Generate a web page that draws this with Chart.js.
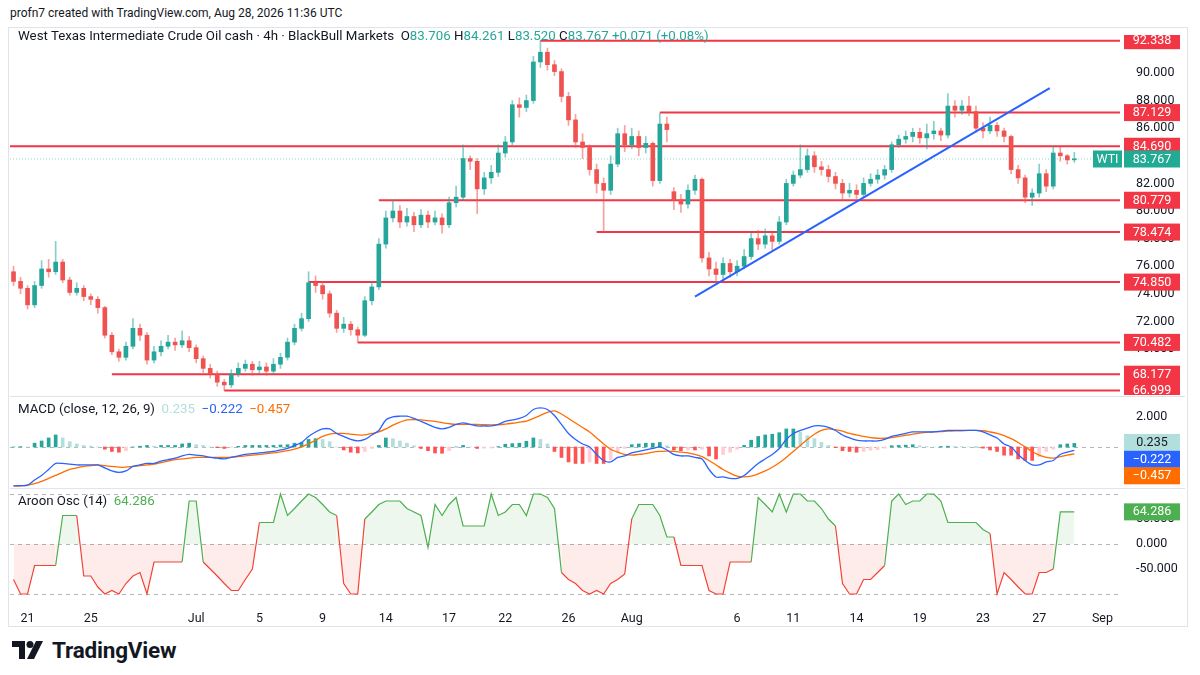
<!DOCTYPE html>
<html>
<head>
<meta charset="utf-8">
<script src="https://cdn.jsdelivr.net/npm/chart.js@4.4.1/dist/chart.umd.min.js"></script>
<style>
  body { margin: 0; background: #fff; font-family: Roboto, "DejaVu Sans", sans-serif; color: #131722; }
  #wrap { position: relative; width: 1200px; height: 675px; overflow: hidden; }
  canvas { position: absolute; left: 10px; }
  .txt { position: absolute; font-size: 13.3px; white-space: nowrap; }
  .sep { position: absolute; left: 10px; width: 1175px; height: 1px; background: #e0e3eb; }
</style>
</head>
<body>
<div id="wrap">
  <div class="txt" style="left:10px;top:6px;font-size:12px;">profn7 created with TradingView.com, Aug 28, 2026 11:36 UTC</div>
  <div style="position:absolute;left:8px;top:27px;width:1178px;height:598px;border:1px solid #e0e3eb;"></div>
  <canvas id="price" width="1175" height="360" style="top:35px"></canvas>
  <div class="sep" style="top:396px"></div>
  <canvas id="macd" width="1175" height="90" style="top:397px"></canvas>
  <div class="sep" style="top:488px"></div>
  <canvas id="aroon" width="1175" height="137" style="top:489px"></canvas>
  <div class="txt" style="left:18px;top:28px;">West Texas Intermediate Crude Oil cash · 4h · BlackBull Markets&nbsp;
    <span style="color:#131722">O</span><span style="color:#26a69a">83.706</span>
    <span style="color:#131722">H</span><span style="color:#26a69a">84.261</span>
    <span style="color:#131722">L</span><span style="color:#26a69a">83.520</span>
    <span style="color:#131722">C</span><span style="color:#26a69a">83.767 +0.071 (+0.08%)</span></div>
  <div class="txt" style="left:18px;top:401px;">MACD (close, 12, 26, 9)&nbsp;
    <span style="color:#b2dfdb">0.235</span>&nbsp; <span style="color:#2962ff">−0.222</span>&nbsp; <span style="color:#ff6d00">−0.457</span></div>
  <div class="txt" style="left:18px;top:493px;">Aroon Osc (14)&nbsp; <span style="color:#4caf50">64.286</span></div>
  <div style="position:absolute;left:12px;top:637px;display:flex;align-items:center;">
    <svg width="34" height="22" viewBox="0 0 34 22">
      <path d="M0 2h13v18H7V8H0z" fill="#131722"/>
      <circle cx="18" cy="5.5" r="3.5" fill="#131722"/>
      <path d="M24 2h7l-9 18h-7z" fill="#131722"/>
    </svg>
    <span style="font-size:22.5px;font-weight:bold;margin-left:6px;letter-spacing:-0.2px;">TradingView</span>
  </div>
</div>
<script>
// ---- data ----
const closes = [74.9,74.4,73.2,74.6,75.8,75.6,76.3,75.0,74.1,74.4,
  73.8,73.6,73.0,71.0,69.8,69.4,70.2,71.5,71.0,69.2,
  69.8,70.2,70.5,70.3,70.6,70.1,69.3,68.6,68.2,67.6,
  67.4,68.2,68.6,68.9,68.5,68.7,68.4,68.9,69.4,70.5,
  71.5,72.2,74.8,74.6,74.0,72.6,71.5,71.8,71.4,71.0,
  73.5,74.5,77.6,79.5,80.0,79.2,79.6,79.0,79.7,79.2,
  79.5,79.0,80.6,81.0,83.8,83.6,81.6,82.4,82.8,84.2,
  85.0,87.7,87.5,88.0,90.8,91.5,90.6,90.1,88.3,86.6,
  85.0,84.6,83.0,82.0,81.5,83.4,85.6,84.8,85.4,84.6,
  84.9,82.2,86.3,85.9,80.8,80.5,81.5,82.3,76.6,75.8,
  75.4,76.2,75.6,76.0,76.7,78.0,77.6,78.2,77.8,79.2,
  82.0,82.6,83.0,84.0,83.2,83.0,82.5,82.0,81.3,81.5,
  81.2,82.0,82.3,82.6,83.0,84.8,85.2,85.4,85.7,85.3,
  85.6,85.8,85.5,87.6,87.3,87.6,87.2,86.0,85.8,86.2,
  85.8,85.4,83.0,82.4,81.0,81.3,82.7,81.8,84.2,84.0,
  83.7,83.767];
const highs = [76.0,75.2,74.6,74.9,76.4,76.5,77.8,76.5,75.2,74.8,
  74.6,74.0,73.8,73.1,71.2,70.0,70.5,72.2,71.8,71.2,
  70.2,70.6,71.0,70.8,71.3,70.9,70.3,69.5,68.9,68.4,
  67.8,68.5,69.0,69.2,69.1,69.1,69.0,69.3,69.7,70.8,
  71.8,72.6,75.6,75.3,74.9,74.2,72.8,72.3,72.0,71.6,
  73.8,74.9,78.0,80.0,80.8,80.4,80.2,79.9,80.1,80.0,
  80.0,79.8,81.0,81.8,84.8,84.0,83.8,82.8,83.3,84.8,
  85.4,88.0,88.2,88.4,91.2,92.338,91.8,90.9,90.3,88.6,
  87.0,85.6,84.8,83.4,82.4,84.0,86.0,86.2,86.0,85.8,
  85.4,85.0,87.1,86.8,81.7,81.2,81.9,82.6,82.4,77.0,
  76.3,76.6,76.5,76.4,77.2,78.4,78.6,78.7,78.5,79.6,
  82.3,82.9,84.8,84.5,84.3,83.6,83.3,82.8,82.3,82.0,
  81.9,82.4,82.7,83.0,83.3,85.0,85.5,85.8,86.0,86.0,
  86.3,86.5,86.0,88.5,88.0,88.0,88.3,87.6,86.4,86.8,
  86.4,86.0,85.5,83.3,82.6,81.6,83.4,83.0,84.69,84.6,
  84.1,84.261];
const lows = [74.6,74.0,72.9,73.0,74.4,75.2,75.4,74.8,73.9,73.9,
  73.5,73.2,72.6,70.8,69.6,69.1,69.2,70.0,70.6,68.9,
  69.0,69.5,70.0,69.9,70.1,69.8,69.0,68.3,67.9,67.3,
  66.999,67.2,68.0,68.4,68.1,68.2,68.1,68.2,68.6,69.2,
  70.3,71.3,72.0,74.1,73.6,72.3,71.2,71.2,71.0,70.482,
  70.9,73.2,74.3,77.3,79.2,78.8,78.9,78.5,78.8,78.8,
  79.0,78.4,78.8,80.3,80.8,83.0,79.8,81.2,82.0,82.5,
  83.9,84.8,86.8,87.2,87.8,90.4,90.2,89.8,87.9,86.2,
  84.6,83.8,82.6,81.3,78.474,81.2,83.2,84.3,84.5,84.0,
  84.2,81.8,82.0,85.0,80.1,79.9,80.2,81.2,76.3,75.3,
  74.85,75.1,75.2,75.3,75.8,76.5,77.2,77.3,77.2,77.6,
  79.0,81.8,82.4,82.8,82.8,82.6,82.1,81.6,80.8,81.0,
  80.9,81.0,81.8,82.0,82.3,82.8,84.6,84.9,85.0,84.9,
  84.5,85.2,85.1,85.3,86.8,87.0,86.9,85.7,85.3,85.6,
  85.4,85.0,82.7,82.0,80.6,80.4,81.0,81.4,81.6,83.6,
  83.4,83.52];
const firstOpen = 75.6;
const gapOpens = { 94: 81.4, 151: 83.706 };   // opens that differ from prior close

const macdLine = [-2.6,-2.58,-2.55,-2.2,-1.9,-1.5,-1.1,-1.1,-1.15,-1.2,
  -1.2,-1.2,-1.2,-1.4,-1.6,-1.7,-1.6,-1.3,-1.2,-1.1,
  -1.1,-0.95,-0.85,-0.75,-0.6,-0.5,-0.55,-0.6,-0.7,-0.75,
  -0.8,-0.7,-0.6,-0.5,-0.45,-0.4,-0.35,-0.3,-0.2,-0.1,
  0.1,0.3,0.7,1.0,1.2,1.2,0.9,0.7,0.5,0.4,
  0.5,0.8,1.1,1.8,2.0,2.05,2.05,1.9,1.7,1.5,
  1.3,1.2,1.3,1.5,1.6,1.5,1.4,1.4,1.4,1.5,
  1.7,1.8,1.9,2.1,2.5,2.6,2.5,2.1,1.5,0.9,
  0.5,0.2,0.0,-0.5,-0.9,-1.0,-0.7,-0.6,-0.4,-0.3,
  -0.2,-0.1,0.0,-0.2,-0.5,-0.6,-0.6,-0.7,-0.8,-1.5,
  -2.0,-2.0,-2.1,-2.1,-1.9,-1.5,-1.1,-0.8,-0.5,-0.1,
  0.5,0.9,1.1,1.25,1.4,1.4,1.3,1.1,0.8,0.6,
  0.45,0.4,0.4,0.4,0.5,0.7,0.8,0.9,1.0,1.0,
  1.0,1.0,1.05,1.1,1.1,1.1,1.1,1.1,1.0,0.8,
  0.6,0.2,0.0,-0.5,-0.9,-1.2,-1.2,-1.0,-0.9,-0.5,
  -0.35,-0.222];
const signalLine = [-2.6,-2.6,-2.55,-2.45,-2.3,-2.1,-1.9,-1.7,-1.5,-1.4,
  -1.3,-1.25,-1.2,-1.25,-1.3,-1.35,-1.35,-1.3,-1.25,-1.2,
  -1.15,-1.05,-0.95,-0.85,-0.8,-0.75,-0.7,-0.7,-0.7,-0.7,
  -0.7,-0.68,-0.64,-0.6,-0.55,-0.5,-0.45,-0.4,-0.33,-0.25,
  -0.15,0.0,0.2,0.45,0.7,0.85,0.9,0.9,0.85,0.8,
  0.8,0.9,1.0,1.2,1.45,1.65,1.8,1.82,1.8,1.75,
  1.7,1.62,1.55,1.5,1.5,1.5,1.5,1.48,1.47,1.48,
  1.52,1.58,1.65,1.72,1.9,2.1,2.3,2.4,2.2,1.9,
  1.6,1.3,1.0,0.6,0.2,-0.15,-0.35,-0.5,-0.55,-0.5,
  -0.45,-0.35,-0.3,-0.28,-0.3,-0.35,-0.4,-0.5,-0.65,-0.9,
  -1.2,-1.5,-1.75,-1.95,-2.0,-1.95,-1.8,-1.6,-1.35,-1.05,
  -0.7,-0.3,0.1,0.5,0.85,1.1,1.2,1.15,1.05,0.9,
  0.8,0.7,0.62,0.58,0.58,0.62,0.7,0.78,0.85,0.92,
  0.97,1.0,1.02,1.05,1.07,1.08,1.1,1.1,1.08,1.0,
  0.9,0.75,0.55,0.3,0.0,-0.3,-0.55,-0.7,-0.75,-0.65,
  -0.55,-0.457];
const aroonOsc = [-71,-100,-100,-43,-43,-43,-43,57,57,57,
  -64,-64,-86,-100,-93,-100,-79,-64,-57,-100,
  -36,-36,-36,-36,-36,86,86,-36,-50,-64,
  -79,-93,-93,-71,-50,43,43,43,100,57,
  71,86,100,93,79,64,57,-79,-100,-100,
  50,64,79,86,86,86,71,64,57,-7,
  79,57,79,93,36,36,36,36,100,57,
  64,79,79,57,100,100,93,71,-57,-71,
  -79,-93,-100,-93,-100,-79,-71,-60,50,79,
  79,79,57,14,14,-43,-43,-43,-43,-93,
  -100,-100,-36,-36,-36,-36,93,79,64,100,
  64,100,100,86,86,71,50,36,-79,-100,
  -100,-71,-71,-57,-43,86,100,79,86,86,
  100,100,86,43,43,43,43,43,29,21,
  -100,-57,-71,-86,-100,-100,-57,-57,-50,64.286,
  64.286,64.286];

// horizontal levels: [price, start bar]
const levels = [[92.338, 75], [87.129, 92], [84.690, -0.5], [80.779, 52], [78.474, 83],
  [74.850, 42], [70.482, 49], [68.177, 14], [66.999, 30]];
const trendLine = [[97, 73.8], [147.5, 88.9]];
const lastPrice = 83.767;
const priceTicks = [70, 72, 74, 76, 78, 80, 82, 84, 86, 88, 90];

// date ticks: [bar index, label]
const dateTicks = [[2,'21'],[11,'25'],[26,'Jul'],[35,'5'],[44,'9'],[53,'14'],[62,'17'],
  [70,'22'],[79,'26'],[88,'Aug'],[103,'6'],[111,'11'],[120,'14'],[129,'19'],
  [138,'23'],[146,'27'],[155,'Sep']];
const totalSlots = 158;

// ---- build ----
const UP = '#26a69a', DOWN = '#ef5350';
const opens = closes.map((c, i) => gapOpens[i] !== undefined ? gapOpens[i] : (i === 0 ? firstOpen : closes[i - 1]));
const labels = Array.from({ length: totalSlots }, () => '');
dateTicks.forEach(([i, t]) => labels[i] = t);
const candleColor = ctx => closes[ctx.dataIndex] >= opens[ctx.dataIndex] ? UP : DOWN;
const hist = macdLine.map((m, i) => +(m - signalLine[i]).toFixed(3));

Chart.defaults.font = { family: 'Roboto, "DejaVu Sans", sans-serif', size: 12 };
Chart.defaults.color = '#131722';

function xAxis(show) {
  const ax = {
    type: 'category', offset: true, display: show,
    grid: { display: false }, border: { display: false },
    ticks: { autoSkip: false, maxRotation: 0, padding: 4, font: { size: 12.5 } }
  };
  if (show) ax.afterFit = s => { s.height = 27; s.paddingLeft = 0; s.paddingRight = 0; };
  return ax;
}
// linear twin of the category axis so lines can sit between bars
const xLine = { type: 'linear', display: false, min: -0.5, max: totalSlots - 0.5 };

function yAxis(min, max, tickVals, fmt) {
  return {
    position: 'right', min, max,
    grid: { display: false }, border: { display: false },
    afterBuildTicks: s => { s.ticks = tickVals.map(v => ({ value: v })); },
    ticks: { padding: 8, font: { size: 12.5 }, callback: fmt },
    afterFit: s => { s.width = 65; s.paddingTop = 0; s.paddingBottom = 0; }
  };
}
const baseOpts = {
  responsive: false, animation: false,
  layout: { padding: 0, autoPadding: false },
  plugins: { legend: { display: false }, tooltip: { enabled: false } }
};

function boxLabel(ctx, area, y, text, bg, fg) {
  const x = area.right + 4, w = 56, h = 17;
  ctx.fillStyle = bg;
  ctx.fillRect(x, y - h / 2, w, h);
  ctx.fillStyle = fg;
  ctx.font = '12.5px Roboto, "DejaVu Sans", sans-serif';
  ctx.textAlign = 'center';
  ctx.textBaseline = 'middle';
  ctx.fillText(text, x + w / 2, y + 0.5);
}

const priceLabels = {
  id: 'priceLabels',
  afterDraw(chart) {
    const { ctx, chartArea, scales } = chart;
    ctx.save();
    levels.forEach(([v]) => boxLabel(ctx, chartArea, scales.y.getPixelForValue(v), v.toFixed(3), '#f23645', '#fff'));
    const y = scales.y.getPixelForValue(lastPrice);
    boxLabel(ctx, chartArea, y, lastPrice.toFixed(3), '#22ab94', '#fff');
    ctx.fillStyle = '#22ab94';
    ctx.fillRect(chartArea.right - 27, y - 8.5, 29, 17);
    ctx.fillStyle = '#fff';
    ctx.fillText('WTI', chartArea.right - 12.5, y + 0.5);
    ctx.restore();
  }
};

const lineDs = (pts, color, width, extra) => Object.assign({
  type: 'line', xAxisID: 'xl', data: pts.map(([x, y]) => ({ x, y })),
  borderColor: color, borderWidth: width, pointRadius: 0
}, extra);

new Chart(document.getElementById('price'), {
  data: {
    labels,
    datasets: [
      ...levels.map(([v, s]) => lineDs([[s, v], [totalSlots - 0.5, v]], '#f23645', 2, { order: 3 })),
      lineDs([[-0.5, lastPrice], [totalSlots - 0.5, lastPrice]], 'rgba(34,171,148,0.5)', 1, { borderDash: [1, 2], order: 4 }),
      lineDs(trendLine, '#2962ff', 2, { order: 0 }),
      { type: 'bar', data: highs.map((h, i) => [lows[i], h]), grouped: false,
        backgroundColor: ctx => candleColor(ctx) === UP ? 'rgba(38,166,154,0.55)' : 'rgba(239,83,80,0.55)',
        barThickness: 1, order: 2 },
      { type: 'bar', data: opens.map((o, i) => [o, closes[i]]), grouped: false,
        backgroundColor: candleColor, barThickness: 4, minBarLength: 1, order: 1 }
    ]
  },
  options: Object.assign({}, baseOpts, {
    scales: {
      x: xAxis(false), xl: xLine,
      y: yAxis(66.67, 92.75, priceTicks, v => v.toFixed(3))
    }
  }),
  plugins: [priceLabels]
});

const dashed = (vals) => ({
  id: 'dashed',
  beforeDatasetsDraw(chart) {
    const { ctx, chartArea, scales } = chart;
    ctx.save();
    ctx.strokeStyle = '#b2b5be';
    ctx.setLineDash([4, 4]);
    ctx.lineWidth = 1;
    vals.forEach(v => {
      const y = Math.round(scales.y.getPixelForValue(v)) + 0.5;
      ctx.beginPath(); ctx.moveTo(chartArea.left, y); ctx.lineTo(chartArea.right, y); ctx.stroke();
    });
    ctx.restore();
  }
});

new Chart(document.getElementById('macd'), {
  data: {
    labels,
    datasets: [
      { type: 'line', data: macdLine, borderColor: '#2962ff', borderWidth: 1.3, pointRadius: 0, tension: 0.3, order: 0 },
      { type: 'line', data: signalLine, borderColor: '#ff6d00', borderWidth: 1.3, pointRadius: 0, tension: 0.3, order: 1 },
      { type: 'bar', data: hist, barThickness: 3, order: 2,
        backgroundColor: ctx => {
          const i = ctx.dataIndex, h = hist[i], p = i > 0 ? hist[i - 1] : h;
          if (h >= 0) return h >= p ? '#26a69a' : '#b2dfdb';
          return h <= p ? '#ff5252' : '#ffcdd2';
        } }
    ]
  },
  options: Object.assign({}, baseOpts, {
    scales: {
      x: xAxis(false),
      y: yAxis(-2.67, 3.33, [2], v => v.toFixed(3))
    }
  }),
  plugins: [dashed([0]), {
    id: 'macdLabels',
    afterDraw(chart) {
      const { ctx, chartArea, scales } = chart;
      ctx.save();
      boxLabel(ctx, chartArea, scales.y.getPixelForValue(0.235) - 1, '0.235', '#b2dfdb', '#131722');
      boxLabel(ctx, chartArea, scales.y.getPixelForValue(-0.222) + 9, '−0.222', '#2962ff', '#fff');
      boxLabel(ctx, chartArea, scales.y.getPixelForValue(-0.457) + 22, '−0.457', '#ff6d00', '#fff');
      ctx.restore();
    }
  }]
});

new Chart(document.getElementById('aroon'), {
  data: {
    labels,
    datasets: [{
      type: 'line', data: aroonOsc, borderWidth: 1.2, pointRadius: 0,
      borderColor: '#4caf50',
      segment: { borderColor: c => (c.p0.parsed.y + c.p1.parsed.y) / 2 >= 0 ? '#4caf50' : '#f44336' },
      fill: { target: 'origin', above: 'rgba(76,175,80,0.1)', below: 'rgba(244,67,54,0.1)' }
    }]
  },
  options: Object.assign({}, baseOpts, {
    scales: {
      x: xAxis(true),
      y: yAxis(-110, 110, [50, 0, -50], v => v.toFixed(3))
    }
  }),
  plugins: [dashed([100, 0, -100]), {
    id: 'aroonLabel',
    afterDraw(chart) {
      const { ctx, chartArea, scales } = chart;
      ctx.save();
      boxLabel(ctx, chartArea, scales.y.getPixelForValue(64.286), '64.286', '#4caf50', '#fff');
      ctx.restore();
    }
  }]
});
</script>
</body>
</html>
